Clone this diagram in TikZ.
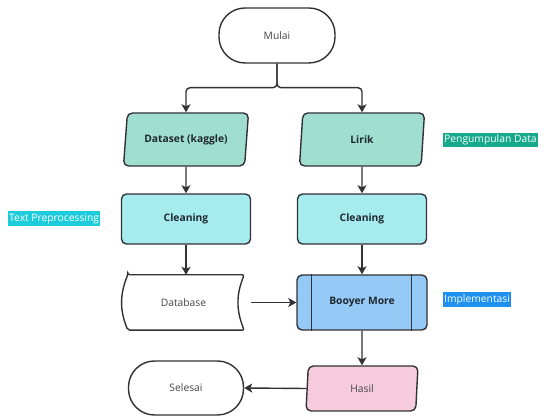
\documentclass[tikz,border=0pt]{standalone}
\usepackage{fontspec}
\setmainfont{Open Sans}
\usetikzlibrary{arrows.meta,positioning,calc,shapes.geometric}
\definecolor{lineDark}{RGB}{50,50,54}
\definecolor{textGray}{RGB}{68,68,72}
\definecolor{textDark}{RGB}{30,40,46}
\definecolor{inputTeal}{RGB}{160,222,208}
\definecolor{procCyan}{RGB}{166,235,238}
\definecolor{implBlue}{RGB}{150,202,246}
\definecolor{outPink}{RGB}{247,203,222}
\definecolor{tagTeal}{RGB}{22,170,138}
\definecolor{tagCyan}{RGB}{28,204,218}
\definecolor{tagBlue}{RGB}{30,144,240}

\begin{document}
\begin{tikzpicture}[x=1pt,y=-1pt,font=\fontsize{10.3}{12}\selectfont,text=textGray,
    line/.style={draw=lineDark,line width=1.4pt},
    arrow/.style={line,-{Stealth[length=8pt,width=9pt,inset=2pt]}},
    terminal/.style={line,fill=white,rounded corners=26pt,minimum width=116pt,minimum height=55pt},
    inputbox/.style={line,trapezium,trapezium left angle=77,trapezium right angle=103,
      trapezium stretches body,rounded corners=5pt,minimum width=125pt,minimum height=53pt,
      fill=inputTeal,text=textDark,font=\fontsize{10.3}{12}\selectfont\bfseries},
    process/.style={line,rounded corners=5pt,minimum width=129pt,minimum height=50pt,
      fill=procCyan,text=textDark,font=\fontsize{10.3}{12}\selectfont\bfseries},
    tag/.style={text=white,inner sep=1pt,inner ysep=2pt}]
  \useasboundingbox (0,0) rectangle (547,419);

  % start
  \node[terminal] (mulai) at (277,35.5) {Mulai};

  % data collection
  \node[inputbox] (dataset) at (186,139.5) {Dataset (kaggle)};
  \node[inputbox] (lirik) at (362,139.5) {Lirik};
  \node[tag,fill=tagTeal,anchor=west] (tagkumpul) at (443,140) {Pengumpulan Data};

  % preprocessing
  \node[process] (cleanA) at (186,219) {Cleaning};
  \node[process] (cleanB) at (362,219) {Cleaning};
  \node[tag,fill=tagCyan,anchor=west] (tagprep) at (8,218.5) {Text Preprocessing};

  % database (stored data)
  \node[minimum width=123pt,minimum height=55pt] (db) at (183.5,302.5) {Database};
  \draw[line,rounded corners=2pt] ([xshift=6pt]db.north west) -- ([xshift=-1pt]db.north east)
    to[bend right=22] ([xshift=-1pt]db.south east) -- ([xshift=6pt]db.south west)
    to[bend left=22] cycle;

  % implementation
  \node[line,rounded corners=5pt,minimum width=130pt,minimum height=55pt,fill=implBlue,
    text=textDark,font=\fontsize{10.3}{12}\selectfont\bfseries] (booyer) at (362,302.5) {Booyer More};
  \draw[line] ([xshift=15pt]booyer.north west) -- ([xshift=15pt]booyer.south west);
  \draw[line] ([xshift=-16pt]booyer.north east) -- ([xshift=-16pt]booyer.south east);
  \node[tag,fill=tagBlue,anchor=west] (tagimpl) at (443,299.5) {Implementasi};

  % output and end
  \node[inputbox,trapezium left angle=81,trapezium right angle=99,minimum width=112pt,
    minimum height=45pt,fill=outPink,text=textGray,font=\fontsize{10.3}{12}\selectfont] (hasil) at (362,388.5) {Hasil};
  \node[terminal,minimum width=115pt,minimum height=54pt] (selesai) at (186,388) {Selesai};

  % connectors
  \draw[arrow,rounded corners=4pt] (mulai.south) -- ++(0,24) -| (dataset.north);
  \draw[arrow,rounded corners=4pt] (mulai.south) -- ++(0,24) -| (lirik.north);
  \draw[arrow] (dataset.south) -- (cleanA.north);
  \draw[arrow] (lirik.south) -- (cleanB.north);
  \draw[arrow] (cleanA.south) -- (cleanA.south |- db.north);
  \draw[arrow] (cleanB.south) -- (booyer.north);
  \draw[arrow,shorten <=6pt] (db.east) -- (booyer.west);
  \draw[arrow] (booyer.south) -- (hasil.north);
  \draw[arrow] (hasil.west) -- (selesai.east);
\end{tikzpicture}
\end{document}
